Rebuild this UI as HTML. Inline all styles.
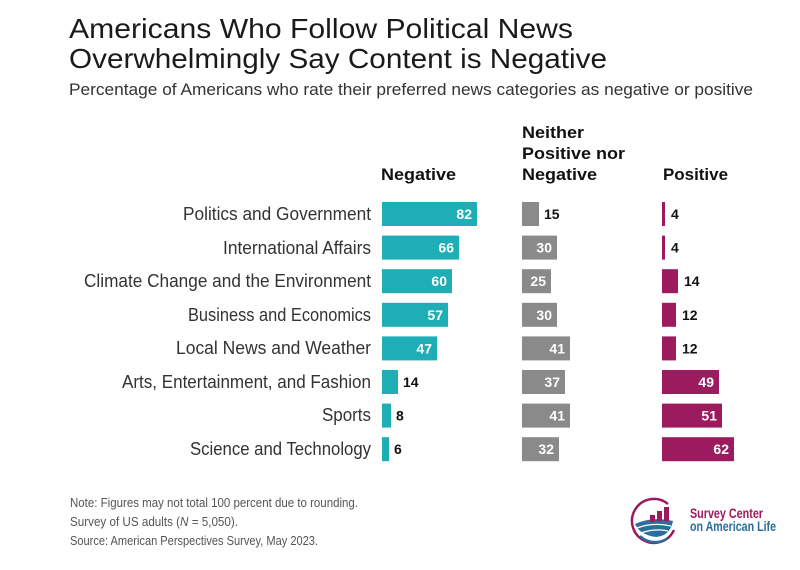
<!DOCTYPE html>
<html><head><meta charset="utf-8"><style>
html,body{margin:0;padding:0;background:#fff;}
svg{display:block;font-family:"Liberation Sans",sans-serif;}
</style></head><body>
<svg width="800" height="570" viewBox="0 0 800 570" xmlns="http://www.w3.org/2000/svg">
<rect width="800" height="570" fill="#fff"/>
<text x="69" y="38" font-size="28" fill="#1a1a1a" textLength="504" lengthAdjust="spacingAndGlyphs">Americans Who Follow Political News</text>
<text x="69" y="68" font-size="28" fill="#1a1a1a" textLength="538" lengthAdjust="spacingAndGlyphs">Overwhelmingly Say Content is Negative</text>
<text x="69" y="95" font-size="17" fill="#333" textLength="684" lengthAdjust="spacingAndGlyphs">Percentage of Americans who rate their preferred news categories as negative or positive</text>
<g font-weight="bold" font-size="17" fill="#111">
<text x="381" y="180" textLength="75" lengthAdjust="spacingAndGlyphs">Negative</text>
<text x="522" y="138" textLength="62" lengthAdjust="spacingAndGlyphs">Neither</text>
<text x="522" y="159" textLength="103" lengthAdjust="spacingAndGlyphs">Positive nor</text>
<text x="522" y="180" textLength="75" lengthAdjust="spacingAndGlyphs">Negative</text>
<text x="663" y="180" textLength="65" lengthAdjust="spacingAndGlyphs">Positive</text>
</g>
<g font-size="18" fill="#333" text-anchor="end">
<text x="371" y="220" textLength="188" lengthAdjust="spacingAndGlyphs">Politics and Government</text>
<text x="371" y="254" textLength="148" lengthAdjust="spacingAndGlyphs">International Affairs</text>
<text x="371" y="287" textLength="287" lengthAdjust="spacingAndGlyphs">Climate Change and the Environment</text>
<text x="371" y="321" textLength="183" lengthAdjust="spacingAndGlyphs">Business and Economics</text>
<text x="371" y="354" textLength="195" lengthAdjust="spacingAndGlyphs">Local News and Weather</text>
<text x="371" y="388" textLength="249" lengthAdjust="spacingAndGlyphs">Arts, Entertainment, and Fashion</text>
<text x="371" y="421" textLength="49" lengthAdjust="spacingAndGlyphs">Sports</text>
<text x="371" y="455" textLength="181" lengthAdjust="spacingAndGlyphs">Science and Technology</text>
</g>
<g font-weight="bold" font-size="14">
<rect x="382" y="202" width="95" height="24" fill="#1fadb6"/><text x="472" y="219" fill="#fff" text-anchor="end">82</text>
<rect x="382" y="235.6" width="77" height="24" fill="#1fadb6"/><text x="454" y="252.6" fill="#fff" text-anchor="end">66</text>
<rect x="382" y="269.2" width="70" height="24" fill="#1fadb6"/><text x="447" y="286.2" fill="#fff" text-anchor="end">60</text>
<rect x="382" y="302.8" width="66" height="24" fill="#1fadb6"/><text x="443" y="319.8" fill="#fff" text-anchor="end">57</text>
<rect x="382" y="336.4" width="55" height="24" fill="#1fadb6"/><text x="432" y="353.4" fill="#fff" text-anchor="end">47</text>
<rect x="382" y="370" width="16" height="24" fill="#1fadb6"/><text x="403" y="387" fill="#111">14</text>
<rect x="382" y="403.6" width="9" height="24" fill="#1fadb6"/><text x="396" y="420.6" fill="#111">8</text>
<rect x="382" y="437.2" width="7" height="24" fill="#1fadb6"/><text x="394" y="454.2" fill="#111">6</text>
<rect x="522" y="202" width="17" height="24" fill="#8a8a8a"/><text x="544" y="219" fill="#111">15</text>
<rect x="522" y="235.6" width="35" height="24" fill="#8a8a8a"/><text x="552" y="252.6" fill="#fff" text-anchor="end">30</text>
<rect x="522" y="269.2" width="29" height="24" fill="#8a8a8a"/><text x="546" y="286.2" fill="#fff" text-anchor="end">25</text>
<rect x="522" y="302.8" width="35" height="24" fill="#8a8a8a"/><text x="552" y="319.8" fill="#fff" text-anchor="end">30</text>
<rect x="522" y="336.4" width="48" height="24" fill="#8a8a8a"/><text x="565" y="353.4" fill="#fff" text-anchor="end">41</text>
<rect x="522" y="370" width="43" height="24" fill="#8a8a8a"/><text x="560" y="387" fill="#fff" text-anchor="end">37</text>
<rect x="522" y="403.6" width="48" height="24" fill="#8a8a8a"/><text x="565" y="420.6" fill="#fff" text-anchor="end">41</text>
<rect x="522" y="437.2" width="37" height="24" fill="#8a8a8a"/><text x="554" y="454.2" fill="#fff" text-anchor="end">32</text>
<rect x="662" y="202" width="3" height="24" fill="#9b1b5e"/><text x="671" y="219" fill="#111">4</text>
<rect x="662" y="235.6" width="3" height="24" fill="#9b1b5e"/><text x="671" y="252.6" fill="#111">4</text>
<rect x="662" y="269.2" width="16" height="24" fill="#9b1b5e"/><text x="684" y="286.2" fill="#111">14</text>
<rect x="662" y="302.8" width="14" height="24" fill="#9b1b5e"/><text x="682" y="319.8" fill="#111">12</text>
<rect x="662" y="336.4" width="14" height="24" fill="#9b1b5e"/><text x="682" y="353.4" fill="#111">12</text>
<rect x="662" y="370" width="57" height="24" fill="#9b1b5e"/><text x="714" y="387" fill="#fff" text-anchor="end">49</text>
<rect x="662" y="403.6" width="60" height="24" fill="#9b1b5e"/><text x="717" y="420.6" fill="#fff" text-anchor="end">51</text>
<rect x="662" y="437.2" width="72" height="24" fill="#9b1b5e"/><text x="729" y="454.2" fill="#fff" text-anchor="end">62</text>
</g>
<g font-size="12.5" fill="#555">
<text x="70" y="507" textLength="288" lengthAdjust="spacingAndGlyphs">Note: Figures may not total 100 percent due to rounding.</text>
<text x="70" y="526" textLength="168" lengthAdjust="spacingAndGlyphs">Survey of US adults (<tspan font-style="italic">N</tspan> = 5,050).</text>
<text x="70" y="545" textLength="248" lengthAdjust="spacingAndGlyphs">Source: American Perspectives Survey, May 2023.</text>
</g>
<g>
<path d="M 668 504 A 22 22 0 1 0 674 530" fill="none" stroke="#9b1b5e" stroke-width="2.5"/>
<path d="M 640 536 A 22 22 0 0 0 668 538" fill="none" stroke="#2a6e9a" stroke-width="2.5"/>
<path d="M 635 524 Q 652 516 673 521 Q 670 536 656 537 Q 640 535 635 524 Z" fill="#2a6e9a"/>
<path d="M 637 528 Q 653 522 671 526" fill="none" stroke="#fff" stroke-width="1.3"/>
<path d="M 641 533 Q 655 528 668 531" fill="none" stroke="#fff" stroke-width="1.3"/>
<rect x="650" y="515" width="5" height="7" fill="#9b1b5e"/>
<rect x="657" y="511" width="5" height="10" fill="#9b1b5e"/>
<rect x="664" y="507" width="5" height="14" fill="#9b1b5e"/>
<text x="690" y="518" font-size="14" font-weight="bold" fill="#9b1b5e" textLength="73" lengthAdjust="spacingAndGlyphs">Survey Center</text>
<text x="690" y="531" font-size="14" font-weight="bold" fill="#2a6e9a" textLength="86" lengthAdjust="spacingAndGlyphs">on American Life</text>
</g>
</svg>
</body></html>
